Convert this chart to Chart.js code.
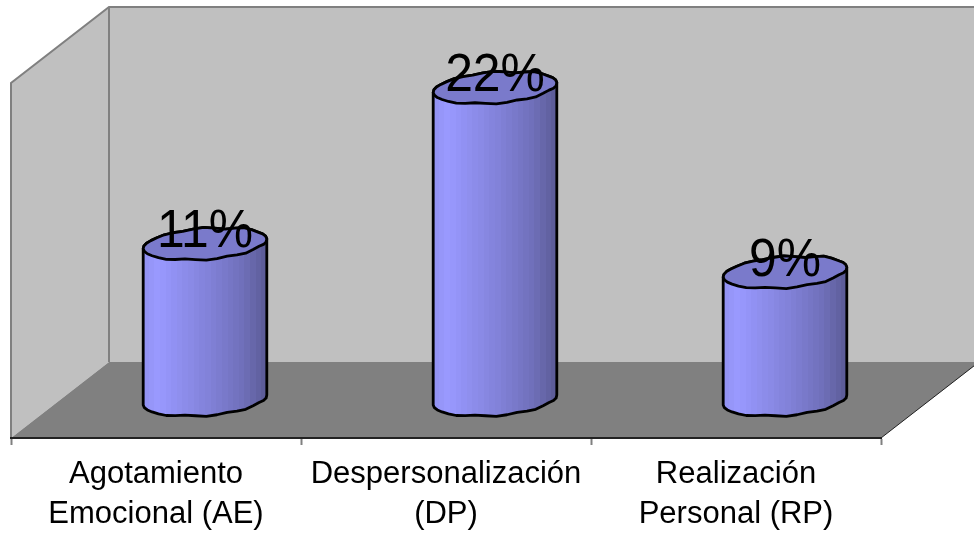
<!DOCTYPE html>
<html>
<head>
<meta charset="utf-8">
<style>
  html, body { margin: 0; padding: 0; background: #ffffff; overflow: hidden; }
  canvas { display: block; }
</style>
<script src="https://cdn.jsdelivr.net/npm/chart.js@4"></script>
</head>
<body>
<canvas id="chart" width="974" height="533"></canvas>
<script>
const categories = [
  ['Agotamiento', 'Emocional (AE)'],
  ['Despersonalización', '(DP)'],
  ['Realización', 'Personal (RP)']
];
const porcentajes = [11, 22, 9];

// profundidad de la caja 3D: pared del fondo respecto al plano frontal
const DEPTH_X = 98;
const DEPTH_Y = 76;
const RY = 15.5;
const TILT = -0.08;

// puntos de un borde de cilindro, poligonal y algo ondulado
const rimPoint = (cx, cy, rx, t) => {
  const wob = 0.9 * Math.sin(t * 9) + 0.5 * Math.cos(t * 5);
  const px = rx * Math.cos(t);
  const py = RY * Math.sin(t) + wob * Math.abs(Math.cos(t * 0.5) * Math.sin(t) * 1.4);
  return [
    cx + px * Math.cos(TILT) - py * Math.sin(TILT),
    cy + px * Math.sin(TILT) + py * Math.cos(TILT)
  ];
};

const sideGradient = (ctx, x0, x1) => {
  const g = ctx.createLinearGradient(x0, 0, x1, 0);
  const ramp = [[0, 146, 146, 242], [0.12, 153, 153, 255], [0.5, 131, 131, 219], [0.8, 112, 112, 186], [1, 90, 90, 150]];
  const bands = 22;
  for (let i = 0; i < bands; i++) {
    const t = (i + 0.5) / bands;
    let k = 0;
    while (k < ramp.length - 2 && t > ramp[k + 1][0]) k++;
    const a = ramp[k], b = ramp[k + 1];
    const f = (t - a[0]) / (b[0] - a[0]);
    const c = [1, 2, 3].map(n => Math.round(a[n] + (b[n] - a[n]) * f));
    const col = `rgb(${c[0]},${c[1]},${c[2]})`;
    g.addColorStop(i / bands, col);
    g.addColorStop((i + 1) / bands, col);
  }
  return g;
};

const cajaPlugin = {
  id: 'caja3d',
  beforeDraw(chart) {
    const { ctx, chartArea: a } = chart;
    const bx = a.left + DEPTH_X, by = a.bottom - DEPTH_Y, ty = a.top - DEPTH_Y;
    const bxr = a.right + DEPTH_X;
    ctx.save();
    // pared del fondo y pared izquierda
    ctx.fillStyle = '#c0c0c0';
    ctx.fillRect(bx, ty, bxr - bx, by - ty);
    ctx.beginPath();
    ctx.moveTo(a.left, a.top);
    ctx.lineTo(bx, ty);
    ctx.lineTo(bx, by);
    ctx.lineTo(a.left, a.bottom);
    ctx.closePath();
    ctx.fill();
    // suelo
    ctx.fillStyle = '#808080';
    ctx.beginPath();
    ctx.moveTo(a.left, a.bottom);
    ctx.lineTo(bx, by);
    ctx.lineTo(bxr, by);
    ctx.lineTo(a.right, a.bottom);
    ctx.closePath();
    ctx.fill();
    // aristas
    ctx.strokeStyle = '#808080';
    ctx.lineWidth = 2;
    ctx.beginPath();
    ctx.moveTo(a.left, a.bottom);
    ctx.lineTo(a.left, a.top);
    ctx.lineTo(bx, ty);
    ctx.lineTo(bxr, ty);
    ctx.moveTo(bx, ty);
    ctx.lineTo(bx, by);
    ctx.stroke();
    ctx.strokeStyle = '#222222';
    ctx.lineWidth = 1;
    ctx.beginPath();
    ctx.moveTo(a.right, a.bottom);
    ctx.lineTo(bxr, by);
    ctx.stroke();
    ctx.restore();
  },
  afterDatasetsDraw(chart) {
    const { ctx } = chart;
    const meta = chart.getDatasetMeta(0);
    meta.data.forEach((bar, i) => {
      const cx = bar.x + DEPTH_X / 2;
      const top = bar.y - DEPTH_Y / 2;
      const base = bar.base - DEPTH_Y / 2;
      const rx = bar.width / 2;
      const steps = 36;
      ctx.save();
      ctx.lineWidth = 2.8;
      ctx.strokeStyle = '#000000';
      ctx.lineJoin = 'round';

      // cuerpo del cilindro
      ctx.beginPath();
      for (let s = 0; s <= steps / 2; s++) {
        const [x, y] = rimPoint(cx, top, rx, Math.PI + (Math.PI * s) / (steps / 2));
        s === 0 ? ctx.moveTo(x, y) : ctx.lineTo(x, y);
      }
      for (let s = 0; s <= steps / 2; s++) {
        const [x, y] = rimPoint(cx, base, rx, (Math.PI * s) / (steps / 2));
        ctx.lineTo(x, y);
      }
      ctx.closePath();
      ctx.fillStyle = sideGradient(ctx, cx - rx, cx + rx);
      ctx.fill();
      ctx.stroke();

      // tapa
      ctx.beginPath();
      for (let s = 0; s < steps; s++) {
        const [x, y] = rimPoint(cx, top, rx, (2 * Math.PI * s) / steps);
        s === 0 ? ctx.moveTo(x, y) : ctx.lineTo(x, y);
      }
      ctx.closePath();
      ctx.fillStyle = '#7a7acb';
      ctx.fill();
      ctx.stroke();

      // etiqueta de valor, algo estrechada
      const label = `${porcentajes[i]}%`;
      ctx.fillStyle = '#000000';
      ctx.font = '53px "Liberation Sans", Arial, sans-serif';
      ctx.textAlign = 'center';
      ctx.textBaseline = 'alphabetic';
      ctx.fillText(label, cx, top + 3.5, ctx.measureText(label).width * 0.94);
      ctx.restore();
    });
  }
};

new Chart(document.getElementById('chart'), {
  type: 'bar',
  data: {
    labels: categories,
    datasets: [{
      data: porcentajes,
      backgroundColor: 'transparent',
      borderWidth: 0,
      categoryPercentage: 1,
      barPercentage: 124 / 290
    }]
  },
  plugins: [cajaPlugin],
  options: {
    responsive: false,
    animation: false,
    layout: { padding: { left: 11, right: 93, top: 83, bottom: 0 } },
    plugins: { legend: { display: false }, tooltip: { enabled: false } },
    scales: {
      x: {
        afterFit(axis) { axis.height = 95; },
        border: { color: '#222222', width: 2 },
        grid: { drawOnChartArea: false, drawTicks: true, tickLength: 7, tickColor: '#808080', tickWidth: 2 },
        ticks: {
          color: '#000000',
          padding: 9,
          autoSkip: false,
          maxRotation: 0,
          font: { family: '"Liberation Sans", Arial, sans-serif', size: 31, lineHeight: 1.29 }
        }
      },
      y: { display: false, min: 0, max: 25 }
    }
  }
});
</script>
</body>
</html>
